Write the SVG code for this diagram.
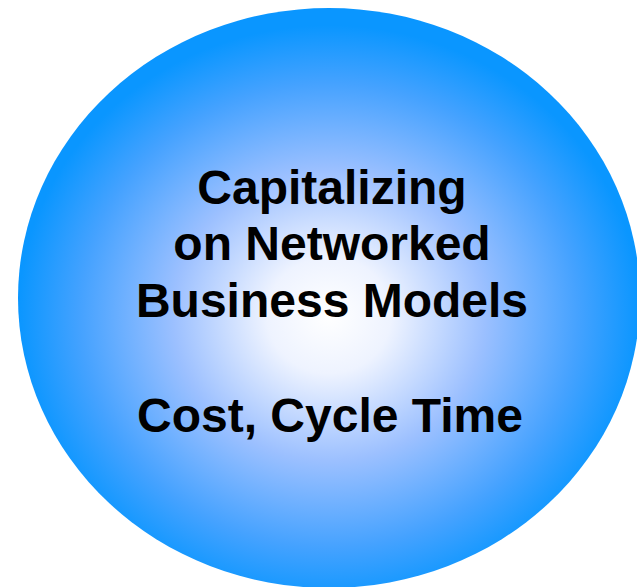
<svg xmlns="http://www.w3.org/2000/svg" width="637" height="587" viewBox="0 0 637 587">
<defs>
<radialGradient id="g" cx="0.5" cy="0.53" r="0.5">
<stop offset="0" stop-color="#ffffff"/>
<stop offset="0.2" stop-color="#eef3ff"/>
<stop offset="0.5" stop-color="#9cc0ff"/>
<stop offset="0.8" stop-color="#45a2ff"/>
<stop offset="1" stop-color="#0a96ff"/>
</radialGradient>
<style>.t{font-family:"Liberation Sans",Arial,sans-serif;font-weight:bold;font-size:48px;fill:#000;text-anchor:middle}</style>
</defs>
<g id="circle">
<ellipse cx="329" cy="298" rx="311" ry="290" fill="url(#g)"/>
<text class="t" x="332" y="204">Capitalizing</text>
<text class="t" x="332" y="260">on Networked</text>
<text class="t" x="332" y="317">Business Models</text>
<text class="t" x="330" y="432">Cost, Cycle Time</text>
</g>
</svg>
